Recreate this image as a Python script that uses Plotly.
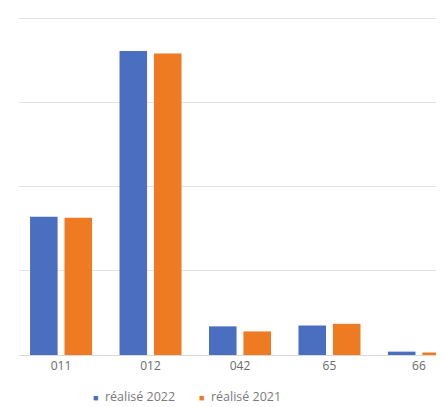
import plotly.graph_objects as go

categories = ["011", "012", "042", "65", "66"]
realise_2022 = [1.64, 3.61, 0.34, 0.35, 0.04]
realise_2021 = [1.63, 3.58, 0.28, 0.37, 0.03]
series_names = ["réalisé 2022", "réalisé 2021"]
colors = ["#4A6FC0", "#EE7A22"]

fig = go.Figure()
for name, vals, col in zip(series_names, [realise_2022, realise_2021], colors):
    fig.add_trace(go.Bar(x=categories, y=vals, name=name,
                         marker=dict(color=col, line=dict(width=0))))

# legend drawn as text annotations (compact Excel-style legend)
legend_x = [0.1694, 0.4188]
for name, col, lx in zip(series_names, colors, legend_x):
    fig.add_annotation(
        x=lx, y=-0.121, xref="paper", yref="paper",
        xanchor="left", yanchor="middle", showarrow=False,
        text=f"<span style='color:{col};font-size:9px'>■</span>\u00a0\u00a0{name}",
        font=dict(size=12.5, color="#7a7a7a",
                  family="Open Sans, Liberation Sans, sans-serif"),
    )

fig.update_layout(
    width=436, height=399,
    margin=dict(l=11, r=0, t=8, b=52),
    paper_bgcolor="white", plot_bgcolor="white",
    barmode="group", bargap=0.23, bargroupgap=0.2,
    font=dict(family="Open Sans, Liberation Sans, sans-serif", color="#6b6b6b"),
    showlegend=False,
    xaxis=dict(type="category", range=[-0.47, 4.28], showgrid=False,
               showline=True, linecolor="#d9d9d9", linewidth=1,
               ticks="", tickfont=dict(size=12, color="#6a6a6a")),
    yaxis=dict(range=[0, 4.024], dtick=1, showgrid=True, gridcolor="#e3e3e3",
               gridwidth=1, showticklabels=False, zeroline=False, showline=False),
)

fig.write_html("out.html")
